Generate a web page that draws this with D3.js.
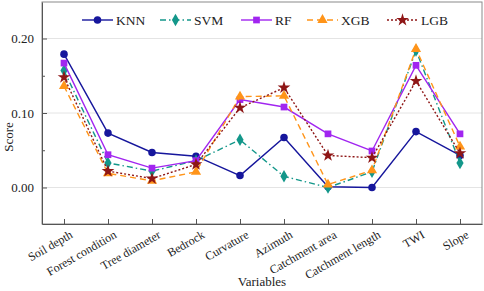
<!DOCTYPE html>
<html>
<head>
<meta charset="utf-8">
<script src="https://cdn.jsdelivr.net/npm/d3@7"></script>
<style>
  body { margin: 0; background: #fff; }
  text { font-family: "Liberation Serif", "Times New Roman", serif; fill: #222; }
</style>
</head>
<body>
<div id="chart"></div>
<script>
// Datos
const variables = ["Soil depth", "Forest condition", "Tree diameter", "Bedrock", "Curvature",
    "Azimuth", "Catchment area", "Catchment length", "TWI", "Slope"];
const knn = [0.179, 0.073, 0.047, 0.042, 0.016, 0.067, 0.001, 0.000, 0.075, 0.043];
const svm = [0.157, 0.033, 0.022, 0.036, 0.064, 0.015, 0.000, 0.021, 0.184, 0.033];
const rf  = [0.167, 0.044, 0.026, 0.036, 0.118, 0.108, 0.072, 0.049, 0.164, 0.072];
const xgb = [0.136, 0.019, 0.009, 0.021, 0.122, 0.123, 0.004, 0.023, 0.186, 0.055];
const lgb = [0.148, 0.022, 0.012, 0.031, 0.107, 0.134, 0.043, 0.040, 0.143, 0.046];
const yTicks = [0.00, 0.10, 0.20];
const yMinor = [0.05, 0.15];

const series = [
    { name: "KNN", values: knn, color: "#16169c", dash: null, symbol: d3.symbolCircle, size: 45 },
    { name: "SVM", values: svm, color: "#13978a", dash: "6,3,1.5,3", symbol: d3.symbolDiamond, size: 45 },
    { name: "RF",  values: rf,  color: "#a125f0", dash: null, symbol: d3.symbolSquare, size: 45 },
    { name: "XGB", values: xgb, color: "#ff9419", dash: "6,4", symbol: d3.symbolTriangle, size: 45 },
    { name: "LGB", values: lgb, color: "#8e1616", dash: "2,2", symbol: d3.symbolStar, size: 50 }
];

const svgWidth = 484, svgHeight = 291;
const margin = { top: 2, right: 2, bottom: 67, left: 42 };
const width = svgWidth - margin.left - margin.right;
const height = svgHeight - margin.top - margin.bottom;

const svg = d3.select("#chart")
    .append("svg")
    .attr("width", svgWidth)
    .attr("height", svgHeight)
    .append("g")
    .attr("transform", `translate(${margin.left}, ${margin.top})`);

// Escalas
const x = d3.scalePoint()
    .domain(variables)
    .range([0, width])
    .padding(0.5);

const y = d3.scaleLinear()
    .domain([-0.049, 0.249])
    .range([height, 0]);

// Rejilla
svg.append("g")
    .selectAll("line")
    .data(yTicks)
    .enter()
    .append("line")
    .attr("x1", 0).attr("x2", width)
    .attr("y1", d => y(d)).attr("y2", d => y(d))
    .attr("stroke", "#e4e4e4")
    .attr("stroke-width", 1);

// Marco
svg.append("rect")
    .attr("width", width).attr("height", height)
    .attr("fill", "none")
    .attr("stroke", "#8a8a8a")
    .attr("stroke-width", 1);

// Ejes
const xAxis = svg.append("g")
    .attr("transform", `translate(0, ${height})`)
    .call(d3.axisBottom(x).tickSizeInner(-5).tickSizeOuter(0).tickFormat(""));
xAxis.select(".domain").attr("stroke", "#555");
xAxis.selectAll(".tick line").attr("stroke", "#555");

xAxis.selectAll(".tick")
    .append("text")
    .attr("transform", "translate(9, 13) rotate(-30)")
    .attr("text-anchor", "end")
    .attr("fill", "#222")
    .style("font-size", "12px")
    .text(d => d);

const yAxis = svg.append("g")
    .call(d3.axisLeft(y).tickValues(yTicks).tickSizeInner(-5).tickSizeOuter(0)
        .tickPadding(8).tickFormat(d3.format(".2f")));
yAxis.select(".domain").attr("stroke", "#555");
yAxis.selectAll(".tick line").attr("stroke", "#555");
yAxis.selectAll(".tick text").attr("fill", "#222").style("font-size", "13px");

svg.append("g")
    .call(d3.axisLeft(y).tickValues(yMinor).tickSizeInner(-3).tickSizeOuter(0).tickFormat(""))
    .call(g => g.select(".domain").remove())
    .selectAll(".tick line").attr("stroke", "#555");

// Títulos
svg.append("text")
    .attr("x", width / 2)
    .attr("y", height + 62)
    .attr("text-anchor", "middle")
    .style("font-size", "13px")
    .text("Variables");

svg.append("text")
    .attr("transform", `translate(${-29}, ${135}) rotate(-90)`)
    .attr("text-anchor", "middle")
    .style("font-size", "13px")
    .text("Score");

// Líneas y marcadores
const line = d3.line()
    .x((d, i) => x(variables[i]))
    .y(d => y(d));

series.forEach(s => {
    svg.append("path")
        .datum(s.values)
        .attr("d", line)
        .attr("fill", "none")
        .attr("stroke", s.color)
        .attr("stroke-width", 1.4)
        .attr("stroke-dasharray", s.dash);

    svg.selectAll(".pt-" + s.name)
        .data(s.values)
        .enter()
        .append("path")
        .attr("d", d3.symbol().type(s.symbol).size(s.size))
        .attr("transform", (d, i) => `translate(${x(variables[i])}, ${y(d)})`)
        .attr("fill", s.color);
});

// Leyenda
const legendX = [40, 118, 199, 265, 345];
const legend = svg.append("g").attr("transform", "translate(0, 18)");
series.forEach((s, i) => {
    const g = legend.append("g").attr("transform", `translate(${legendX[i]}, 0)`);
    g.append("line")
        .attr("x1", 0).attr("x2", 31)
        .attr("stroke", s.color)
        .attr("stroke-width", 1.4)
        .attr("stroke-dasharray", s.dash);
    g.append("path")
        .attr("d", d3.symbol().type(s.symbol).size(s.size))
        .attr("transform", "translate(15.5, 0)")
        .attr("fill", s.color);
    g.append("text")
        .attr("x", 34)
        .attr("y", 5)
        .style("font-size", "13.5px")
        .text(s.name);
});
</script>
</body>
</html>
